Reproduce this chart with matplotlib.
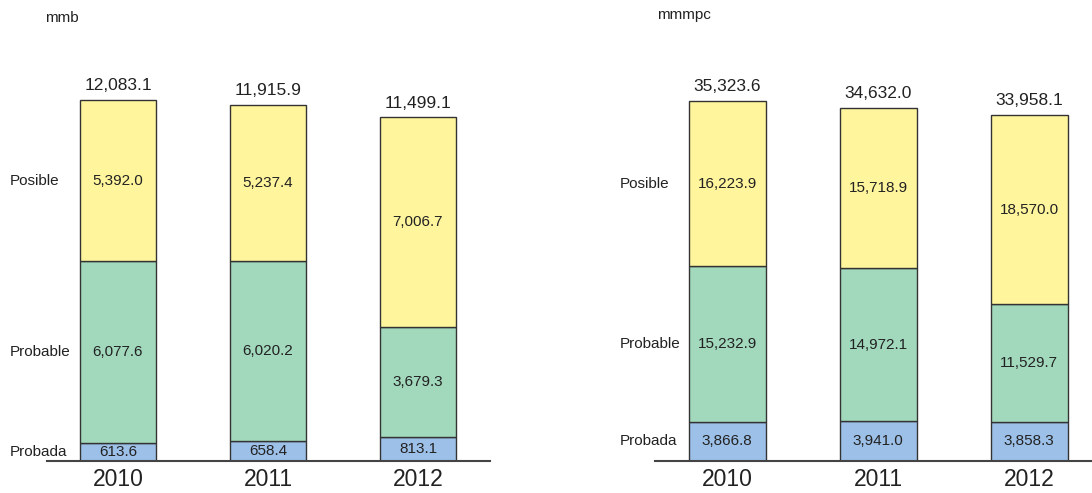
import matplotlib
matplotlib.use('Agg')
import matplotlib.pyplot as plt
from matplotlib.transforms import blended_transform_factory

plt.rcParams['font.family'] = ['Liberation Sans', 'DejaVu Sans']

years = ['2010', '2011', '2012']
series = ['Probada', 'Probable', 'Posible']

# crude oil reserves, millions of barrels
oil_probada = [613.6, 658.4, 813.1]
oil_probable = [6077.6, 6020.2, 3679.3]
oil_posible = [5392.0, 5237.4, 7006.7]
oil_total = [12083.1, 11915.9, 11499.1]

# natural gas reserves, billions of cubic feet
gas_probada = [3866.8, 3941.0, 3858.3]
gas_probable = [15232.9, 14972.1, 11529.7]
gas_posible = [16223.9, 15718.9, 18570.0]
gas_total = [35323.6, 34632.0, 33958.1]

colors = {'Probada': '#9dc0e8', 'Probable': '#a2d9bd', 'Posible': '#fff59d'}
W, H = 1092, 493

fig = plt.figure(figsize=(W / 100, H / 100), dpi=100)


def stacked_panel(rect, parts, totals, unit, ymax, xlim, unit_xy, label_x):
    ax = fig.add_axes([rect[0] / W, rect[1] / H, rect[2] / W, rect[3] / H])
    x = list(range(len(years)))
    bottom = [0.0] * len(years)
    for name, vals in zip(series, parts):
        ax.bar(x, vals, width=0.51, bottom=bottom, color=colors[name],
               edgecolor='#333333', linewidth=1.0, zorder=2)
        for i, v in enumerate(vals):
            ax.text(x[i], bottom[i] + v / 2, '{:,.1f}'.format(v), ha='center',
                    va='center', fontsize=11, color='#222222')
        # series name next to the first bar
        tr = blended_transform_factory(fig.transFigure, ax.transData)
        ax.text(label_x / W, bottom[0] + vals[0] / 2, name, transform=tr,
                ha='left', va='center', fontsize=11, color='#222222')
        bottom = [b + v for b, v in zip(bottom, vals)]
    for i, t in enumerate(totals):
        ax.annotate('{:,.1f}'.format(t), (x[i], t), xytext=(0, 5),
                    textcoords='offset points', ha='center', va='bottom',
                    fontsize=12.5, color='#222222')
    ax.set_xlim(*xlim)
    ax.set_ylim(0, ymax)
    for s in ['top', 'right', 'left']:
        ax.spines[s].set_visible(False)
    ax.spines['bottom'].set_color('#444444')
    ax.spines['bottom'].set_linewidth(1.5)
    ax.set_yticks([])
    ax.set_xticks(x)
    ax.set_xticklabels(years, fontsize=16.5, color='#222222')
    ax.tick_params(axis='x', length=0, pad=5)
    fig.text(unit_xy[0] / W, 1 - unit_xy[1] / H, unit, fontsize=11,
             ha='left', va='center', color='#222222')
    return ax


stacked_panel([47, 32, 443, 461],
              [oil_probada, oil_probable, oil_posible], oil_total, 'mmb',
              461 * 12083.1 / 361, (-0.473, 2.48), (45, 18), 10)
stacked_panel([655, 32, 437, 461],
              [gas_probada, gas_probable, gas_posible], gas_total, 'mmmpc',
              461 * 35323.6 / 360, (-0.477, 2.417), (657, 15), 620)

fig.savefig('out.png', dpi=100)
